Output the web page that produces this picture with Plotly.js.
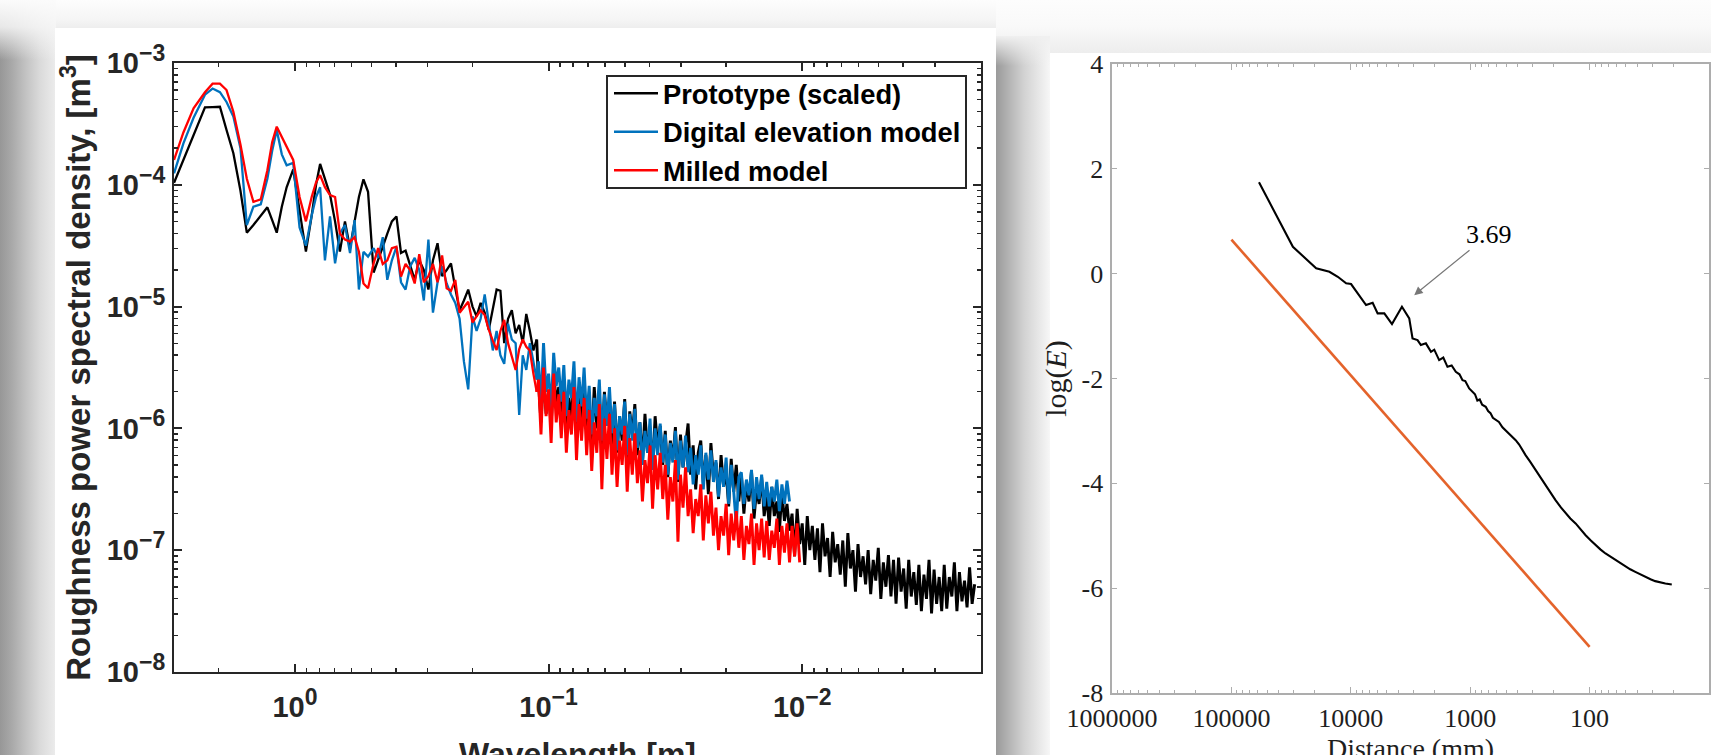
<!DOCTYPE html>
<html><head><meta charset="utf-8">
<script src="https://cdn.plot.ly/plotly-3.0.1.min.js"></script>
<style>
html,body{margin:0;padding:0;width:1711px;height:755px;overflow:hidden;background:#f9f9f9;position:relative}
.bg{position:absolute}
#chart{position:absolute;left:0;top:0;width:1711px;height:800px}
</style></head><body>
<div class="bg" style="left:0;top:0;width:1000px;height:30px;background:linear-gradient(to bottom,#fdfdfd,#f5f5f5 65%,#ececec)"></div>
<div class="bg" style="left:0;top:0;width:56px;height:755px;background:linear-gradient(to right,#979797 0px,#a9a9a9 12px,#c3c3c3 26px,#dadada 40px,#ebebeb 55px)"></div>
<div class="bg" style="left:0;top:0;width:56px;height:60px;background:linear-gradient(to bottom,#fbfbfb 0%,rgba(246,246,246,0.85) 45%,rgba(240,240,240,0) 100%)"></div>
<div class="bg" style="left:55px;top:28px;width:941px;height:727px;background:#fff"></div>
<div class="bg" style="left:996px;top:0;width:715px;height:53px;background:linear-gradient(to bottom,#fdfdfd,#f9f9f9 50%,#ededed)"></div>
<div class="bg" style="left:996px;top:36px;width:54px;height:719px;background:linear-gradient(to right,#9a9a9a 0px,#b6b6b6 14px,#d2d2d2 28px,#e6e6e6 42px,#f7f7f7 54px)"></div>
<div class="bg" style="left:996px;top:36px;width:54px;height:30px;background:linear-gradient(to bottom,rgba(240,240,240,1),rgba(240,240,240,0))"></div>
<div class="bg" style="left:1050px;top:53px;width:661px;height:702px;background:#fff"></div>
<div id="chart"></div>
<script>
// ---------- Left chart: roughness PSD (log10 of wavelength [m] and log10 of PSD [m^3]) ----------
const logWavelength = [
 0.477,0.44,0.40,0.355,0.325,0.296,0.27,0.243,0.215,0.19,
 0.164,0.135,0.109,0.09,0.072,0.052,0.033,0.007,-0.018,-0.043,
 -0.066,-0.083,-0.099,-0.118,-0.138,-0.158,-0.177,-0.197,-0.217,-0.235,
 -0.252,-0.27,-0.288,-0.31,-0.328,-0.346,-0.364,-0.382,-0.40,-0.418,
 -0.436,-0.454,-0.472,-0.49,-0.508,-0.526,-0.544,-0.562,-0.58,-0.598,
 -0.615,-0.632,-0.649,-0.666,-0.683,-0.70,-0.716,-0.732,-0.748,-0.764,
 -0.78,-0.795,-0.81,-0.825,-0.84,-0.855,-0.87,-0.884,-0.898,-0.912,
 -0.926,-0.94,-0.953,
 -0.96,-0.97,-0.98,-0.99,-1.00,-1.01,-1.02,-1.03,-1.04,-1.05,
 -1.06,-1.07,-1.08,-1.09,-1.10,-1.11,-1.12,-1.13,-1.14,-1.15,
 -1.16,-1.17,-1.18,-1.19,-1.20,-1.21,-1.22,-1.23,-1.24,-1.25,
 -1.26,-1.27,-1.28,-1.29,-1.30,-1.31,-1.32,-1.33,-1.34,-1.35,
 -1.36,-1.37,-1.38,-1.39,-1.40,-1.41,-1.42,-1.43,-1.44,-1.45,
 -1.46,-1.47,-1.48,-1.49,-1.50,-1.51,-1.52,-1.53,-1.54,-1.55,
 -1.56,-1.57,-1.58,-1.59,-1.60,-1.61,-1.62,-1.63,-1.64,-1.65,
 -1.66,-1.67,-1.68,-1.69,-1.70,-1.71,-1.72,-1.73,-1.74,-1.75,
 -1.76,-1.77,-1.78,-1.79,-1.80,-1.81,-1.82,-1.83,-1.84,-1.85,
 -1.86,-1.87,-1.88,-1.89,-1.90,-1.91,-1.92,-1.93,-1.94,-1.95,
 -1.96,-1.97,-1.98,-1.99,-2.00,-2.01,-2.02,-2.03,-2.04,-2.05,
 -2.06,-2.07,-2.08,-2.09,-2.10,-2.11,-2.12,-2.13,-2.14,-2.15,
 -2.16,-2.17,-2.18,-2.19,-2.20,-2.21,-2.22,-2.23,-2.24,-2.25,
 -2.26,-2.27,-2.28,-2.29,-2.30,-2.31,-2.32,-2.33,-2.34,-2.35,
 -2.36,-2.37,-2.38,-2.39,-2.40,-2.41,-2.42,-2.43,-2.44,-2.45,
 -2.46,-2.47,-2.48,-2.49,-2.50,-2.51,-2.52,-2.53,-2.54,-2.55,
 -2.56,-2.57,-2.58,-2.59,-2.60,-2.61,-2.62,-2.63,-2.64,-2.65,
 -2.66,-2.67,-2.68
];
const logPsdPrototype = [
 -3.983,-3.80,-3.60,-3.364,-3.362,-3.359,-3.55,-3.741,-4.05,-4.393,
 -4.33,-4.25,-4.185,-4.29,-4.393,-4.18,-4.02,-3.873,-4.20,-4.549,
 -4.25,-4.00,-3.829,-3.95,-4.08,-4.30,-4.549,-4.30,-4.521,-4.30,
 -4.10,-3.955,-4.057,-4.72,-4.62,-4.51,-4.40,-4.30,-4.26,-4.56,
 -4.54,-4.66,-4.78,-4.62,-4.70,-4.86,-4.62,-4.48,-4.75,-4.70,
 -4.645,-4.85,-5.03,-4.95,-4.86,-5.00,-5.08,-4.97,-5.05,-5.19,
 -5.02,-4.86,-4.87,-5.30,-5.10,-5.03,-5.22,-5.15,-5.30,-5.06,
 -5.20,-5.36,-5.27,
 -5.62,-5.95,-5.55,-5.88,-5.70,-5.98,-5.52,-5.80,-5.66,-5.94,
 -5.60,-6.02,-5.75,-5.92,-5.58,-6.08,-5.70,-5.98,-5.64,-6.05,
 -5.82,-6.12,-5.66,-6.00,-5.74,-6.18,-5.70,-5.96,-5.80,-6.14,
 -5.78,-6.20,-5.90,-6.10,-5.76,-6.26,-5.86,-6.05,-5.80,-6.22,
 -5.95,-6.28,-5.88,-6.20,-6.00,-6.34,-5.90,-6.15,-5.98,-6.30,
 -6.02,-6.40,-6.10,-6.25,-5.99,-6.44,-6.05,-6.32,-6.12,-5.96,
 -6.38,-6.14,-6.50,-6.20,-6.10,-6.46,-6.22,-6.54,-6.12,-6.40,
 -6.28,-6.58,-6.22,-6.48,-6.35,-6.64,-6.25,-6.52,-6.30,-6.60,
 -6.38,-6.70,-6.45,-6.60,-6.35,-6.74,-6.50,-6.62,-6.40,-6.72,
 -6.55,-6.80,-6.48,-6.72,-6.60,-6.85,-6.52,-6.76,-6.62,-6.84,
 -6.70,-7.05,-6.66,-6.95,-6.78,-7.12,-6.72,-7.00,-6.80,-7.08,
 -6.82,-7.18,-6.78,-7.05,-6.90,-7.22,-6.85,-7.10,-6.95,-7.20,
 -6.92,-7.30,-6.86,-7.15,-7.00,-7.34,-6.95,-7.22,-7.05,-7.28,
 -7.00,-7.36,-7.08,-7.25,-6.98,-7.40,-7.10,-7.30,-7.04,-7.38,
 -7.08,-7.44,-7.06,-7.34,-7.15,-7.48,-7.08,-7.38,-7.18,-7.45,
 -7.12,-7.50,-7.20,-7.40,-7.08,-7.52,-7.16,-7.44,-7.22,-7.50,
 -7.12,-7.48,-7.22,-7.38,-7.10,-7.50,-7.18,-7.42,-7.25,-7.47,
 -7.14,-7.44,-7.28
];
const logPsdDem = [
 -3.906,-3.66,-3.45,-3.26,-3.21,-3.24,-3.32,-3.44,-3.70,-4.33,
 -4.18,-4.16,-3.95,-3.72,-3.55,-3.75,-3.84,-3.82,-4.35,-4.50,
 -4.25,-4.10,-4.02,-4.62,-4.26,-4.645,-4.40,-4.33,-4.56,-4.29,
 -4.86,-4.55,-4.59,-4.52,-4.60,-4.43,-4.78,-4.62,-4.51,-4.80,
 -4.86,-4.67,-4.60,-4.70,-4.95,-4.45,-5.05,-4.80,-4.67,-4.81,
 -4.90,-4.97,-5.10,-5.45,-5.68,-5.08,-5.20,-5.10,-4.90,-5.15,
 -5.36,-5.20,-5.40,-5.47,-5.14,-5.27,-5.30,-5.89,-5.40,-5.52,
 -5.30,-5.45,-5.60,
 -5.45,-5.80,-5.30,-5.70,-5.55,-5.85,-5.38,-5.65,-5.50,-5.78,
 -5.48,-5.90,-5.60,-5.75,-5.45,-5.95,-5.58,-5.82,-5.50,-5.92,
 -5.65,-6.05,-5.75,-5.90,-5.60,-6.10,-5.72,-5.98,-5.66,-6.04,
 -5.80,-6.18,-5.90,-6.05,-5.78,-6.22,-5.88,-6.10,-5.84,-6.16,
 -5.95,-6.30,-6.02,-6.20,-5.92,-6.34,-6.00,-6.22,-5.96,-6.28,
 -6.05,-6.38,-6.12,-6.28,-6.02,-6.42,-6.10,-6.32,-6.06,-6.36,
 -6.16,-6.46,-6.22,-6.38,-6.14,-6.50,-6.20,-6.42,-6.18,-6.44,
 -6.26,-6.56,-6.32,-6.48,-6.24,-6.62,-6.30,-6.52,-6.79,-6.40,
 -6.36,-6.62,-6.42,-6.55,-6.34,-6.66,-6.40,-6.58,-6.38,-6.64,
 -6.44,-6.64,-6.48,-6.60,-6.42,-6.68,-6.46,-6.62,-6.43,-6.60
];
const logPsdMilled = [
 -3.796,-3.57,-3.372,-3.24,-3.17,-3.17,-3.222,-3.40,-3.67,-3.95,
 -4.14,-4.12,-3.88,-3.65,-3.523,-3.61,-3.687,-3.796,-4.10,-4.30,
 -4.098,-3.98,-3.92,-4.02,-4.084,-4.10,-4.40,-4.45,-4.467,-4.43,
 -4.55,-4.81,-4.85,-4.645,-4.52,-4.65,-4.62,-4.52,-4.508,-4.754,
 -4.65,-4.70,-4.81,-4.57,-4.80,-4.75,-4.65,-4.80,-4.58,-4.85,
 -4.87,-4.78,-5.05,-5.00,-4.96,-5.13,-5.08,-5.03,-5.07,-5.19,
 -5.28,-5.356,-5.20,-5.11,-5.30,-5.40,-5.52,-5.35,-5.27,-5.33,
 -5.36,-5.55,-5.70,
 -5.60,-6.05,-5.50,-5.90,-5.68,-6.12,-5.55,-5.95,-5.72,-6.08,
 -5.70,-6.20,-5.85,-6.05,-5.66,-6.26,-5.80,-6.10,-5.75,-6.22,
 -5.85,-6.35,-5.95,-6.20,-5.80,-6.50,-5.92,-6.25,-5.88,-6.38,
 -6.00,-6.48,-6.10,-6.30,-5.98,-6.52,-6.08,-6.38,-6.04,-6.45,
 -6.18,-6.60,-6.26,-6.45,-6.14,-6.66,-6.22,-6.50,-6.20,-6.58,
 -6.30,-6.75,-6.40,-6.60,-6.26,-6.93,-6.38,-6.65,-6.32,-6.72,
 -6.50,-6.86,-6.58,-6.72,-6.46,-6.92,-6.55,-6.78,-6.52,-6.88,
 -6.65,-7.00,-6.72,-6.88,-6.62,-7.04,-6.70,-6.92,-6.68,-6.98,
 -6.72,-7.08,-6.80,-6.95,-6.70,-7.12,-6.78,-7.00,-6.74,-7.06,
 -6.76,-7.08,-6.84,-6.98,-6.74,-7.12,-6.80,-7.02,-6.78,-7.10,
 -6.80,-7.05,-6.78,-7.10
];
const seriesNames = ['Prototype (scaled)', 'Digital elevation model', 'Milled model'];
const leftXTicks = [1, 0.1, 0.01];
const leftXExponents = ['0', '\u22121', '\u22122'];
const leftYTicks = [1e-8, 1e-7, 1e-6, 1e-5, 1e-4, 1e-3];
const leftYExponents = ['\u22128', '\u22127', '\u22126', '\u22125', '\u22124', '\u22123'];

// ---------- Right chart: log(E) vs distance ----------
const distanceMm = [58750,30550,19500,15100,12850,10940,9950,8750,7450,6560,
 5960,5240,4520,3730,3240,3040,2760,2590,2350,2130,
 2000,1820,1680,1550,1430,1320,1230,1160,1100,1020,
 955,912,871,832,794,741,708,676,646,611,
 575,537,505,468,442,416,389,363,344,316,
 283,257,233,214,193,174,159,145,131,119,
 108,97.7,89.3,81.3,73.6,66.8,60.8,55.0,50.1,45.7,
 41.4,37.6,34.1,30.9,28.2,25.7,23.2,20.5];
const logE = [1.742,0.513,0.101,0.036,-0.059,-0.185,-0.198,-0.376,-0.599,-0.555,
 -0.758,-0.758,-0.962,-0.632,-0.853,-1.235,-1.267,-1.363,-1.330,-1.491,
 -1.45,-1.649,-1.60,-1.777,-1.75,-1.872,-1.92,-2.031,-2.05,-2.19,
 -2.26,-2.30,-2.42,-2.40,-2.50,-2.539,-2.62,-2.66,-2.75,-2.794,
 -2.83,-2.93,-2.985,-3.06,-3.11,-3.176,-3.26,-3.38,-3.462,-3.58,
 -3.748,-3.89,-4.034,-4.17,-4.321,-4.46,-4.575,-4.67,-4.765,-4.88,
 -4.989,-5.09,-5.179,-5.26,-5.338,-5.40,-5.466,-5.53,-5.580,-5.64,
 -5.689,-5.74,-5.784,-5.83,-5.866,-5.89,-5.911,-5.930];
const slopeLineDistance = [100000, 100];
const slopeLineLogE = [0.65, -7.12];
const slopeLabel = {text: '3.69', distance: 2945, logE: -0.41};
const rightXTicks = [1000000, 100000, 10000, 1000, 100];
const rightXTickText = ['1000000', '100000', '10000', '1000', '100'];
const rightYTicks = [-8, -6, -4, -2, 0, 2, 4];
const rightYTickText = ['-8', '-6', '-4', '-2', '0', '2', '4'];

// ---------- build ----------
const H = 800; // figure is taller than the 755px window so the x titles are cut like the reference
const DENSE_FROM = 72; // index where the spectra become dense (drawn a bit heavier)
const pow10 = a => a.map(v => Math.pow(10, v));
const wavelength = pow10(logWavelength);
const powLabel = e => '10<sup><span style="font-size:23px">' + e + '</span></sup>';
const colors = ['#000000', '#0072BD', '#FF0000'];
const psdSets = [logPsdPrototype, logPsdDem, logPsdMilled];
const traces = [];
psdSets.forEach((s, i) => {
  const y = pow10(s), x = wavelength.slice(0, s.length);
  traces.push({type: 'scatter', mode: 'lines', name: seriesNames[i], legendgroup: 'g' + i,
    x: x.slice(0, DENSE_FROM + 1), y: y.slice(0, DENSE_FROM + 1),
    line: {color: colors[i], width: 2.3}, xaxis: 'x', yaxis: 'y'});
  traces.push({type: 'scatter', mode: 'lines', name: seriesNames[i], legendgroup: 'g' + i, showlegend: false,
    x: x.slice(DENSE_FROM), y: y.slice(DENSE_FROM),
    line: {color: colors[i], width: 2.9}, xaxis: 'x', yaxis: 'y'});
});
traces.push({type: 'scatter', mode: 'lines', x: distanceMm, y: logE, showlegend: false,
  line: {color: '#000', width: 2.1}, xaxis: 'x2', yaxis: 'y2'});
traces.push({type: 'scatter', mode: 'lines', x: slopeLineDistance, y: slopeLineLogE, showlegend: false,
  line: {color: '#E4632B', width: 2.6}, xaxis: 'x2', yaxis: 'y2'});

function minorLog(lo, hi) { // minor tick positions 2..9 x 10^k
  const out = [];
  for (let k = lo; k <= hi; k++) for (let m = 2; m <= 9; m++) out.push(m * Math.pow(10, k));
  return out;
}
const sansB = {family: 'Liberation Sans, Arial, sans-serif', weight: 'bold', color: '#262626'};
const serif = {family: 'Liberation Serif, Times New Roman, serif', color: '#1e1e1e'};
const dark = '#262626', grey = '#adadad';
const px = (top) => (H - top) / H;

const layout = {
  width: 1711, height: H, autosize: false,
  margin: {l: 0, r: 0, t: 0, b: 0},
  paper_bgcolor: 'rgba(0,0,0,0)', plot_bgcolor: '#ffffff',
  showlegend: true, hovermode: false,
  xaxis: {
    domain: [174/1711, 981/1711], type: 'log', range: [Math.log10(3), -2.705],
    tickmode: 'array', tickvals: leftXTicks, ticktext: leftXExponents.map(powLabel),
    ticks: 'inside', ticklen: 8, tickwidth: 2, tickcolor: dark,
    showline: true, linecolor: dark, linewidth: 2, mirror: 'allticks',
    showgrid: false, zeroline: false, tickangle: 0, ticklabelstandoff: 8,
    tickfont: Object.assign({size: 29}, sansB),
    minor: {tickmode: 'array', tickvals: minorLog(-3, 0).filter(v => v > 0.0021 && v < 2.9), ticks: 'inside', ticklen: 4, tickwidth: 1.5, tickcolor: dark, showgrid: false},
    title: {text: 'Wavelength [m]', font: Object.assign({size: 32}, sansB), standoff: 21},
    automargin: false, anchor: 'y'
  },
  yaxis: {
    domain: [px(672), px(63)], type: 'log', range: [-8, -3],
    tickmode: 'array', tickvals: leftYTicks, ticktext: leftYExponents.map(powLabel),
    ticks: 'inside', ticklen: 8, tickwidth: 2, tickcolor: dark,
    showline: true, linecolor: dark, linewidth: 2, mirror: 'allticks',
    showgrid: false, zeroline: false, ticklabelstandoff: 1,
    tickfont: Object.assign({size: 29}, sansB),
    minor: {tickmode: 'array', tickvals: minorLog(-8, -4), ticks: 'inside', ticklen: 4, tickwidth: 1.5, tickcolor: dark, showgrid: false},
    title: {text: 'Roughness power spectral density, [m<sup>3</sup>]', font: Object.assign({size: 33}, sansB), standoff: 6},
    automargin: false, anchor: 'x'
  },
  xaxis2: {
    domain: [1112/1711, 1709/1711], type: 'log', range: [6, 1],
    tickmode: 'array', tickvals: rightXTicks, ticktext: rightXTickText,
    ticks: 'inside', ticklen: 6, tickwidth: 1.2, tickcolor: grey,
    showline: true, linecolor: grey, linewidth: 1.6, mirror: 'allticks',
    showgrid: false, zeroline: false, tickangle: 0, ticklabelstandoff: 1,
    tickfont: Object.assign({size: 26}, serif),
    minor: {tickmode: 'array', tickvals: minorLog(1, 5), ticks: 'inside', ticklen: 3, tickwidth: 1, tickcolor: grey, showgrid: false},
    title: {text: 'Distance (mm)', font: Object.assign({size: 28}, serif), standoff: 2},
    automargin: false, anchor: 'y2'
  },
  yaxis2: {
    domain: [px(693), px(64)], range: [-8, 4],
    tickmode: 'array', tickvals: rightYTicks, ticktext: rightYTickText,
    ticks: 'inside', ticklen: 5, tickwidth: 1.2, tickcolor: grey,
    showline: true, linecolor: grey, linewidth: 1.6, mirror: 'allticks',
    showgrid: false, zeroline: false, ticklabelstandoff: 2,
    tickfont: Object.assign({size: 26}, serif),
    title: {text: 'log(<i>E</i>)', font: Object.assign({size: 30}, serif), standoff: 6},
    automargin: false, anchor: 'x2'
  },
  legend: {
    x: 609/1711, xanchor: 'left', y: px(69), yanchor: 'top',
    bgcolor: 'rgba(0,0,0,0)', borderwidth: 0,
    font: {family: 'Liberation Sans, Arial, sans-serif', size: 27.3, weight: 'bold', color: '#000'},
    itemwidth: 44, tracegroupgap: 0
  },
  shapes: [{
    type: 'rect', xref: 'paper', yref: 'paper',
    x0: 607/1711, x1: 966/1711, y0: px(188), y1: px(76),
    line: {color: dark, width: 2}, fillcolor: '#ffffff', layer: 'above'
  }],
  annotations: [{
    xref: 'x2', yref: 'y2', x: Math.log10(slopeLabel.distance), y: slopeLabel.logE,
    text: slopeLabel.text, showarrow: true, ax: 75, ay: -61,
    arrowhead: 2, arrowsize: 1.4, arrowwidth: 1.2, arrowcolor: '#777', standoff: 0,
    font: Object.assign({size: 26}, serif, {color: '#000'})
  }]
};
Plotly.newPlot('chart', traces, layout, {staticPlot: true, displayModeBar: false});
</script>
</body></html>
